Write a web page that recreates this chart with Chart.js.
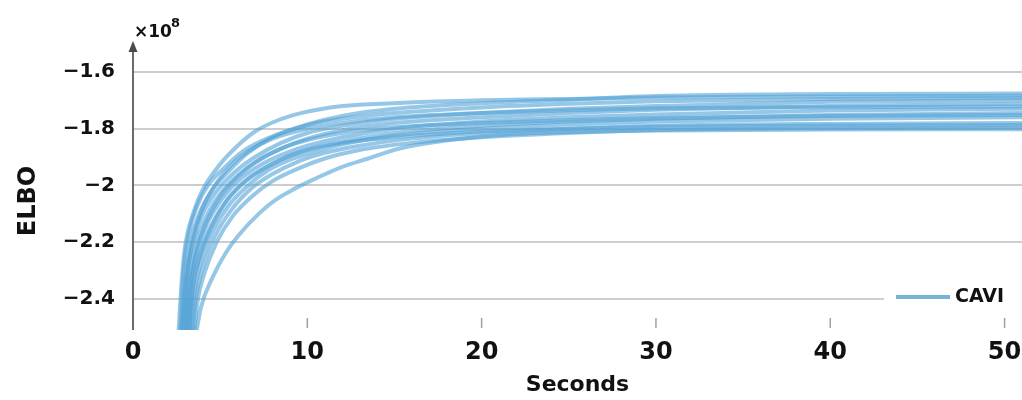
<!DOCTYPE html>
<html><head><meta charset="utf-8">
<script src="https://cdn.jsdelivr.net/npm/chart.js@4/dist/chart.umd.min.js"></script>
<style>html,body{margin:0;padding:0;background:#fff;}#wrap{width:1022px;height:400px;position:relative;}</style>
</head><body><div id="wrap"><canvas id="c"></canvas></div>
<script>
// ---- data (ELBO in units of 1e8, time in seconds) ----
const xTickValues = [0, 10, 20, 30, 40, 50];
const xTickLabels = ['0', '10', '20', '30', '40', '50'];
const yTickValues = [-2.4, -2.2, -2.0, -1.8, -1.6];
const yTickLabels = ['\u22122.4', '\u22122.2', '\u22122', '\u22121.8', '\u22121.6'];
const seriesName = 'CAVI';
const exponentLabel = '8';

const run01 = [[2.6,-2.53],[2.8,-2.33],[3.0,-2.21],[3.5,-2.09],[4.0,-2.015],[5.0,-1.925],[6.0,-1.86],[7.0,-1.81],[8.0,-1.778],[9.2,-1.752],[10.5,-1.734],[12,-1.72],[15,-1.71],[20,-1.70],[25,-1.695],[30,-1.69],[40,-1.686],[51,-1.684]];
const run02 = [[2.8,-2.53],[3.0,-2.34],[3.3,-2.2],[3.8,-2.1],[4.5,-2.02],[5.5,-1.95],[6.5,-1.89],[8,-1.83],[10,-1.785],[12,-1.755],[15,-1.73],[20,-1.71],[25,-1.698],[30,-1.685],[40,-1.678],[51,-1.676]];
const run03 = [[2.7,-2.53],[2.9,-2.3],[3.2,-2.17],[3.7,-2.07],[4.3,-2.0],[5.2,-1.94],[6.3,-1.88],[7.5,-1.84],[9,-1.805],[10.5,-1.78],[12,-1.765],[15,-1.745],[20,-1.725],[25,-1.712],[30,-1.703],[40,-1.695],[51,-1.692]];
const run04 = [[2.9,-2.53],[3.1,-2.33],[3.5,-2.19],[4.0,-2.1],[4.8,-2.02],[5.8,-1.955],[7,-1.9],[8.5,-1.85],[10,-1.815],[12,-1.79],[15,-1.765],[20,-1.745],[25,-1.73],[30,-1.72],[40,-1.705],[51,-1.70]];
const run05 = [[3.0,-2.53],[3.2,-2.35],[3.6,-2.21],[4.2,-2.11],[5.0,-2.03],[6.0,-1.965],[7.2,-1.91],[8.5,-1.87],[10,-1.835],[12,-1.805],[15,-1.78],[20,-1.76],[25,-1.745],[30,-1.733],[40,-1.72],[51,-1.712]];
const run06 = [[2.8,-2.53],[3.0,-2.36],[3.4,-2.2],[4.0,-2.08],[4.8,-1.99],[5.6,-1.93],[6.6,-1.88],[8,-1.835],[10,-1.80],[12,-1.78],[15,-1.76],[20,-1.745],[25,-1.735],[30,-1.728],[40,-1.724],[51,-1.722]];
const run07 = [[3.1,-2.53],[3.3,-2.36],[3.7,-2.23],[4.3,-2.13],[5.2,-2.04],[6.2,-1.975],[7.4,-1.925],[8.8,-1.885],[10,-1.86],[12,-1.83],[15,-1.80],[20,-1.775],[25,-1.76],[30,-1.75],[40,-1.736],[51,-1.73]];
const run08 = [[3.2,-2.53],[3.4,-2.37],[3.8,-2.25],[4.5,-2.14],[5.4,-2.05],[6.5,-1.98],[7.8,-1.93],[9,-1.895],[10.5,-1.865],[12,-1.845],[15,-1.815],[20,-1.79],[25,-1.775],[30,-1.765],[40,-1.752],[51,-1.745]];
const run09 = [[3.0,-2.53],[3.2,-2.38],[3.6,-2.24],[4.2,-2.13],[5.0,-2.04],[6.0,-1.97],[7.0,-1.92],[8.5,-1.87],[10,-1.84],[12,-1.815],[15,-1.795],[20,-1.78],[25,-1.77],[30,-1.762],[40,-1.755],[51,-1.752]];
const run10 = [[3.3,-2.53],[3.5,-2.39],[3.9,-2.27],[4.6,-2.16],[5.5,-2.07],[6.6,-2.0],[7.8,-1.945],[9.2,-1.905],[10.5,-1.88],[12,-1.855],[15,-1.825],[20,-1.80],[25,-1.785],[30,-1.775],[40,-1.765],[51,-1.76]];
const run11 = [[3.4,-2.53],[3.6,-2.4],[4.0,-2.29],[4.7,-2.18],[5.6,-2.09],[6.8,-2.01],[8,-1.96],[9.5,-1.915],[11,-1.885],[13,-1.86],[16,-1.835],[20,-1.815],[25,-1.8],[30,-1.79],[40,-1.783],[51,-1.78]];
const run12 = [[3.2,-2.53],[3.4,-2.38],[3.8,-2.26],[4.4,-2.16],[5.2,-2.07],[6.2,-2.0],[7.4,-1.945],[8.8,-1.9],[10,-1.875],[12,-1.85],[15,-1.83],[20,-1.81],[25,-1.8],[30,-1.793],[40,-1.789],[51,-1.787]];
const run13 = [[3.5,-2.53],[3.7,-2.41],[4.1,-2.31],[4.8,-2.2],[5.7,-2.11],[6.8,-2.04],[8,-1.985],[9.5,-1.94],[11,-1.905],[13,-1.875],[16,-1.85],[20,-1.83],[25,-1.815],[30,-1.805],[40,-1.798],[51,-1.795]];
const run14 = [[3.6,-2.53],[3.9,-2.43],[4.6,-2.32],[5.3,-2.24],[6.0,-2.18],[7.3,-2.095],[8.2,-2.05],[9.2,-2.014],[10.5,-1.975],[11.9,-1.937],[13.5,-1.905],[15.3,-1.87],[18.2,-1.84],[21,-1.822],[25,-1.812],[30,-1.806],[40,-1.803],[51,-1.802]];

const runs = [run01, run02, run03, run04, run05, run06, run07, run08, run09, run10, run11, run12, run13, run14];

// ---- chart ----
const FONT = "'DejaVu Sans', 'Liberation Sans', sans-serif";
const lineColor = 'rgba(82,162,214,0.6)';

const datasets = runs.map((r, i) => ({
  label: seriesName,
  data: r.map(p => ({x: p[0], y: p[1]})),
  borderColor: lineColor,
  borderWidth: 4,
  pointRadius: 0,
  fill: false,
  cubicInterpolationMode: 'monotone'
}));

const decor = {
  id: 'decor',
  afterDraw(chart) {
    const {ctx, chartArea: a, scales: {x}} = chart;
    ctx.save();
    // y axis line with arrow
    ctx.strokeStyle = '#6a6a6a'; ctx.lineWidth = 2;
    ctx.beginPath(); ctx.moveTo(a.left, a.bottom); ctx.lineTo(a.left, 49); ctx.stroke();
    ctx.fillStyle = '#4a4a4a';
    ctx.beginPath(); ctx.moveTo(a.left, 41); ctx.lineTo(a.left - 4.5, 52); ctx.lineTo(a.left + 4.5, 52); ctx.closePath(); ctx.fill();
    // inner x tick marks
    ctx.strokeStyle = '#a0a0a0'; ctx.lineWidth = 1.5;
    xTickValues.forEach(v => {
      if (v === 0) return;
      const px = x.getPixelForValue(v);
      ctx.beginPath(); ctx.moveTo(px, a.bottom - 12); ctx.lineTo(px, a.bottom - 2); ctx.stroke();
    });
    // exponent label
    ctx.fillStyle = '#111';
    ctx.textBaseline = 'alphabetic'; ctx.textAlign = 'left';
    ctx.font = "bold 17px " + FONT;
    ctx.fillText('\u00d710', a.left + 1, 37);
    const w = ctx.measureText('\u00d710').width;
    ctx.font = "bold 13px " + FONT;
    ctx.fillText(exponentLabel, a.left + w, 27);
    // legend
    ctx.fillStyle = '#fff';
    ctx.fillRect(884, a.bottom - 45, 1022 - 884, 22);
    ctx.strokeStyle = 'rgba(110,176,216,0.95)'; ctx.lineWidth = 4;
    ctx.beginPath(); ctx.moveTo(896, 297); ctx.lineTo(950, 297); ctx.stroke();
    ctx.fillStyle = '#111';
    ctx.font = "bold 19px " + FONT; ctx.textBaseline = 'middle';
    ctx.fillText(seriesName, 955, 297);
    ctx.restore();
  }
};

new Chart(document.getElementById('c'), {
  type: 'line',
  data: {datasets},
  plugins: [decor],
  options: {
    responsive: true,
    maintainAspectRatio: false,
    animation: false,
    layout: {padding: {top: 72, left: 0, right: 0, bottom: 0}},
    plugins: {legend: {display: false}, tooltip: {enabled: false}},
    scales: {
      x: {
        type: 'linear', min: 0, max: 51,
        afterBuildTicks: s => { s.ticks = xTickValues.map(v => ({value: v})); },
        afterFit: s => { s.height = 70; s.paddingLeft = 0; s.paddingRight = 0; },
        ticks: {
          callback: (v) => xTickLabels[xTickValues.indexOf(v)],
          color: '#111', padding: 8, maxRotation: 0, autoSkip: false,
          font: {family: FONT, size: 24, weight: 'bold'}
        },
        grid: {display: false, drawTicks: false},
        border: {display: false},
        title: {display: true, text: 'Seconds', color: '#111', padding: {top: 0, bottom: 2},
          font: {family: FONT, size: 22, weight: 'bold'}}
      },
      y: {
        type: 'linear', min: -2.51, max: -1.6,
        afterBuildTicks: s => { s.ticks = yTickValues.map(v => ({value: v})); },
        afterFit: s => { s.width = 133; s.paddingTop = 0; s.paddingBottom = 0; },
        ticks: {
          callback: (v) => yTickLabels[yTickValues.indexOf(v)],
          color: '#111', padding: 18, autoSkip: false,
          font: {family: FONT, size: 20, weight: 'bold'}
        },
        grid: {color: '#cdcdcd', lineWidth: 2, drawTicks: false},
        border: {display: false},
        title: {display: true, text: 'ELBO', color: '#111', padding: {top: 14, bottom: 0},
          font: {family: FONT, size: 24, weight: 'bold'}}
      }
    }
  }
});
</script>
</body></html>
